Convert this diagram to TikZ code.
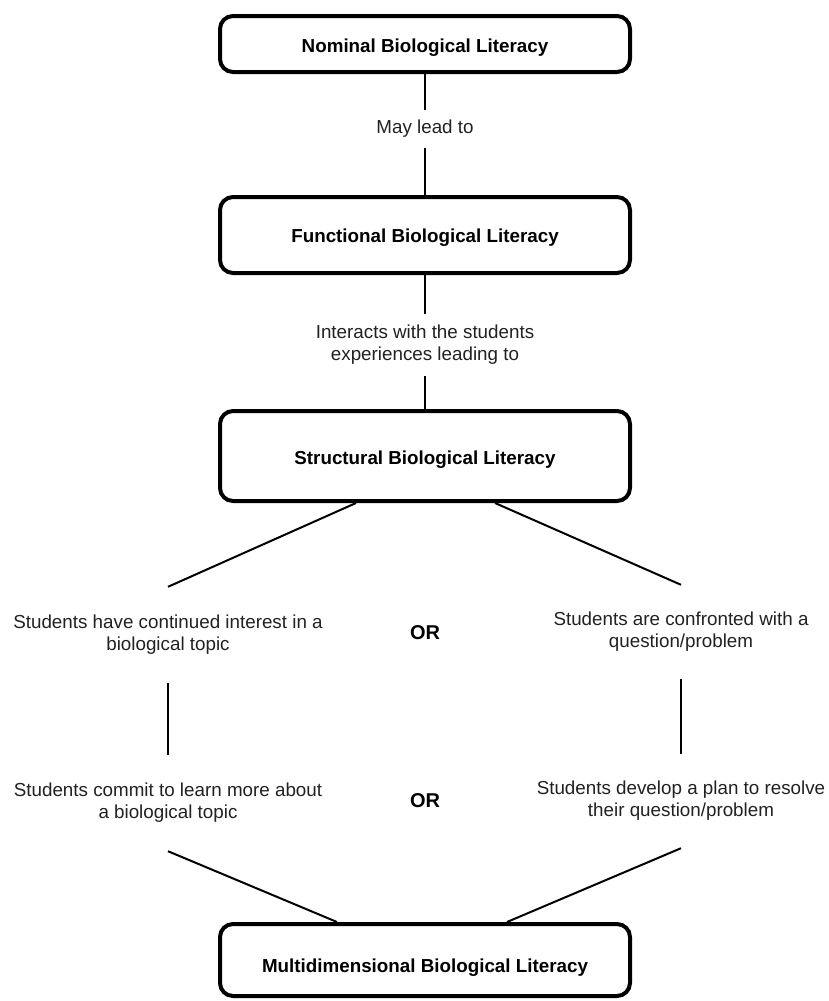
\documentclass[tikz,border=0pt]{standalone}
\usepackage{fontspec}
\setmainfont{Liberation Sans}
\usetikzlibrary{calc}
\definecolor{txtgray}{rgb}{0.13,0.13,0.13}
\begin{document}
\begin{tikzpicture}[x=1pt,y=-1pt,
  litbox/.style={draw=black,line width=4pt,rounded corners=13pt,minimum width=410pt,
    inner sep=0pt,font=\fontsize{18.8}{22}\selectfont\bfseries,text=black,text depth=4pt},
  tdown/.style={text height=#1},
  lbl/.style={inner sep=0pt,align=center,text=txtgray,font=\fontsize{18.8}{22}\selectfont},
  ortext/.style={inner sep=0pt,font=\fontsize{20}{24}\selectfont\bfseries,text=black},
  conn/.style={draw=black,line width=2pt}]
\useasboundingbox (0,0) rectangle (829,1001);
\node[litbox,tdown=21pt,minimum height=56pt] (nom) at (425,44) {Nominal Biological Literacy};
\node[litbox,tdown=18pt,minimum height=76pt] (fun) at (425,235) {Functional Biological Literacy};
\node[litbox,tdown=21pt,minimum height=90pt] (str) at (425,456) {Structural Biological Literacy};
\node[litbox,tdown=28pt,minimum height=72pt] (mul) at (425,960) {Multidimensional Biological Literacy};
\node[lbl,minimum height=38pt] (may) at (425,129) {May lead to};
\node[lbl,minimum height=61pt] (int) at (425,345) {Interacts with the students\\experiences leading to};
\node[lbl,minimum height=96pt] (l1) at (168,635) {Students have continued interest in a\\biological topic};
\node[lbl,minimum height=96pt] (l2) at (168,803) {Students commit to learn more about\\a biological topic};
\node[lbl,minimum height=94pt] (r1) at (681,632) {Students are confronted with a\\question/problem};
\node[lbl,minimum height=94pt] (r2) at (681,801) {Students develop a plan to resolve\\their question/problem};
\node[ortext] (or1) at (425,633) {OR};
\node[ortext] (or2) at (425,801) {OR};
\draw[conn] (nom.south) -- (may.north);
\draw[conn] (may.south) -- (fun.north);
\draw[conn] (fun.south) -- (int.north);
\draw[conn] (int.south) -- (str.north);
\draw[conn] ([xshift=-69pt]str.south) -- (l1.north);
\draw[conn] ([xshift=70pt]str.south) -- (r1.north);
\draw[conn] (l1.south) -- (l2.north);
\draw[conn] (r1.south) -- (r2.north);
\draw[conn] (l2.south) -- ([xshift=-88pt]mul.north);
\draw[conn] (r2.south) -- ([xshift=82pt]mul.north);
\end{tikzpicture}
\end{document}
